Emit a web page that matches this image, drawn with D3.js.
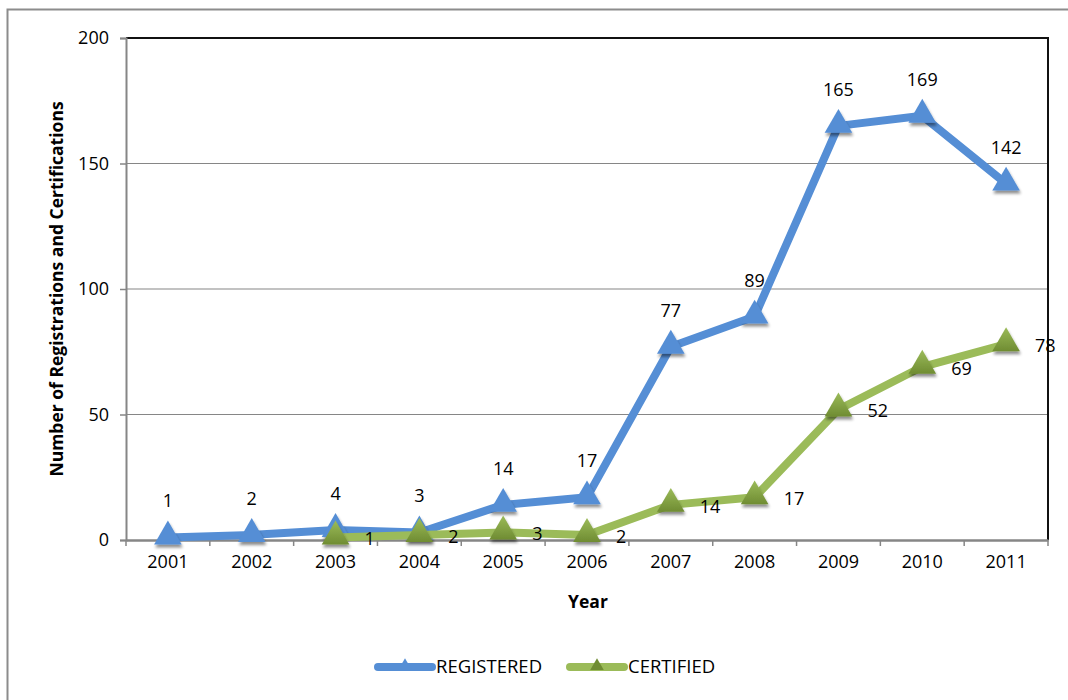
<!DOCTYPE html>
<html>
<head>
<meta charset="utf-8">
<script src="https://cdn.jsdelivr.net/npm/d3@7"></script>
<style>
  html, body { margin: 0; padding: 0; background: #fff; }
  svg { display: block; font-family: "Open Sans", "Noto Sans", sans-serif; }
</style>
</head>
<body>
<svg id="chart" width="1068" height="700"></svg>
<script>
// Annual registrations and certifications, 2001–2011
const years = ["2001","2002","2003","2004","2005","2006","2007","2008","2009","2010","2011"];
const registered = [1, 2, 4, 3, 14, 17, 77, 89, 165, 169, 142];
const certifiedYears = ["2003","2004","2005","2006","2007","2008","2009","2010","2011"];
const certified = [1, 2, 3, 2, 14, 17, 52, 69, 78];
const yTicks = [0, 50, 100, 150, 200];

const seriesList = [
  { name: "REGISTERED", color: "#558ed5", dark: "#3f74b8", labelPos: "above",
    points: years.map((y, i) => ({ year: y, value: registered[i] })) },
  { name: "CERTIFIED", color: "#9bbb59", dark: "#6f8c32", labelPos: "right",
    points: certifiedYears.map((y, i) => ({ year: y, value: certified[i] })) }
];

const svg = d3.select("#chart");
const plot = { left: 126, top: 38, right: 1048, bottom: 540 };
const font = "'Open Sans', 'Noto Sans', sans-serif";

const x = d3.scaleBand().domain(years).range([plot.left, plot.right]);
const y = d3.scaleLinear().domain([0, 200]).range([plot.bottom, plot.top]);
const cx = d => x(d) + x.bandwidth() / 2;

// outer chart frame
svg.append("rect")
  .attr("x", 7.5).attr("y", 9.5).attr("width", 1070).attr("height", 700)
  .attr("fill", "none").attr("stroke", "#8c8c8c").attr("stroke-width", 2);

// defs: marker gradients and soft shadow
const defs = svg.append("defs");
const shadow = defs.append("filter").attr("id", "shadow")
  .attr("x", "-50%").attr("y", "-50%").attr("width", "200%").attr("height", "200%");
shadow.append("feGaussianBlur").attr("in", "SourceAlpha").attr("stdDeviation", 1.6).attr("result", "b");
shadow.append("feOffset").attr("in", "b").attr("dx", 1).attr("dy", 2.5).attr("result", "o");
shadow.append("feComponentTransfer").attr("in", "o").attr("result", "s")
  .append("feFuncA").attr("type", "linear").attr("slope", 0.45);
const merge = shadow.append("feMerge");
merge.append("feMergeNode").attr("in", "s");
merge.append("feMergeNode").attr("in", "SourceGraphic");

seriesList.forEach((s, i) => {
  const g = defs.append("linearGradient").attr("id", "grad" + i)
    .attr("x1", 0).attr("y1", 0).attr("x2", 0).attr("y2", 1);
  g.append("stop").attr("offset", "0%").attr("stop-color", s.color);
  g.append("stop").attr("offset", "100%").attr("stop-color", s.dark);
});

// gridlines
svg.append("g")
  .selectAll("line")
  .data(yTicks.filter(t => t > 0 && t < 200))
  .join("line")
  .attr("x1", plot.left).attr("x2", plot.right)
  .attr("y1", d => y(d)).attr("y2", d => y(d))
  .attr("stroke", "#868686").attr("stroke-width", 1.2);

// plot area top and right border
svg.append("path")
  .attr("d", `M${plot.left},${plot.top}H${plot.right}V${plot.bottom}`)
  .attr("fill", "none").attr("stroke", "#111").attr("stroke-width", 2);

// y axis
const yAxis = svg.append("g")
  .attr("transform", `translate(${plot.left},0)`)
  .call(d3.axisLeft(y).tickValues(yTicks).tickSize(6).tickPadding(11));
yAxis.select(".domain").attr("stroke", "#868686").attr("stroke-width", 2);
yAxis.selectAll(".tick line").attr("stroke", "#868686").attr("stroke-width", 1.5);
yAxis.selectAll(".tick text").attr("font-size", 18).attr("fill", "#000")
  .attr("font-family", font);

// x axis with ticks at category boundaries
const xAxis = svg.append("g")
  .attr("transform", `translate(0,${plot.bottom})`)
  .call(d3.axisBottom(x).tickSize(0).tickPadding(15));
xAxis.select(".domain").attr("stroke", "#868686").attr("stroke-width", 2.5);
xAxis.selectAll(".tick text").attr("font-size", 18).attr("fill", "#000")
  .attr("font-family", font);
const bounds = years.map(d => x(d)).concat([x(years[years.length - 1]) + x.bandwidth()]);
xAxis.selectAll(".bound")
  .data(bounds)
  .join("line")
  .attr("class", "bound")
  .attr("x1", d => d).attr("x2", d => d)
  .attr("y1", 0).attr("y2", 6)
  .attr("stroke", "#868686").attr("stroke-width", 1.5);

// axis titles
svg.append("text")
  .attr("transform", `translate(63,${(plot.top + plot.bottom) / 2}) rotate(-90)`)
  .attr("text-anchor", "middle")
  .attr("font-size", 17.5).attr("font-weight", "bold")
  .text("Number of Registrations and Certifications");
svg.append("text")
  .attr("x", 588).attr("y", 608)
  .attr("text-anchor", "middle")
  .attr("font-size", 17.5).attr("font-weight", "bold")
  .text("Year");

// lines, markers and value labels
const line = d3.line().x(d => cx(d.year)).y(d => y(d.value));
const tri = d3.symbol().type(d3.symbolTriangle).size(330);

seriesList.forEach((s, i) => {
  const g = svg.append("g");
  g.append("path")
    .datum(s.points)
    .attr("d", line)
    .attr("fill", "none")
    .attr("stroke", s.color)
    .attr("stroke-width", 8)
    .attr("stroke-linejoin", "round")
    .attr("stroke-linecap", "round");
  g.selectAll(".mk")
    .data(s.points)
    .join("path")
    .attr("class", "mk")
    .attr("d", tri)
    .attr("transform", d => `translate(${cx(d.year)},${y(d.value) - 1})`)
    .attr("fill", i === 0 ? s.color : `url(#grad${i})`)
    .attr("filter", "url(#shadow)");
  g.selectAll(".lbl")
    .data(s.points)
    .join("text")
    .attr("class", "lbl")
    .attr("x", d => s.labelPos === "above" ? cx(d.year) : cx(d.year) + 29)
    .attr("y", d => s.labelPos === "above" ? y(d.value) - 30 : y(d.value) + 8)
    .attr("text-anchor", s.labelPos === "above" ? "middle" : "start")
    .attr("font-size", 18)
    .attr("fill", "#000")
    .text(d => d.value);
});

// legend
const legend = svg.append("g").attr("transform", "translate(0,667)");
const legendItems = [
  { s: seriesList[0], x: 378, tx: 436 },
  { s: seriesList[1], x: 570, tx: 628 }
];
legendItems.forEach((it, i) => {
  legend.append("line")
    .attr("x1", it.x).attr("x2", it.x + 54)
    .attr("y1", 0).attr("y2", 0)
    .attr("stroke", it.s.color).attr("stroke-width", 8).attr("stroke-linecap", "round");
  legend.append("path")
    .attr("d", d3.symbol().type(d3.symbolTriangle).size(80))
    .attr("transform", `translate(${it.x + 27},-1)`)
    .attr("fill", i === 0 ? it.s.color : it.s.dark);
  legend.append("text")
    .attr("x", it.tx).attr("y", 6)
    .attr("font-size", 18.5)
    .text(it.s.name);
});
</script>
</body>
</html>
